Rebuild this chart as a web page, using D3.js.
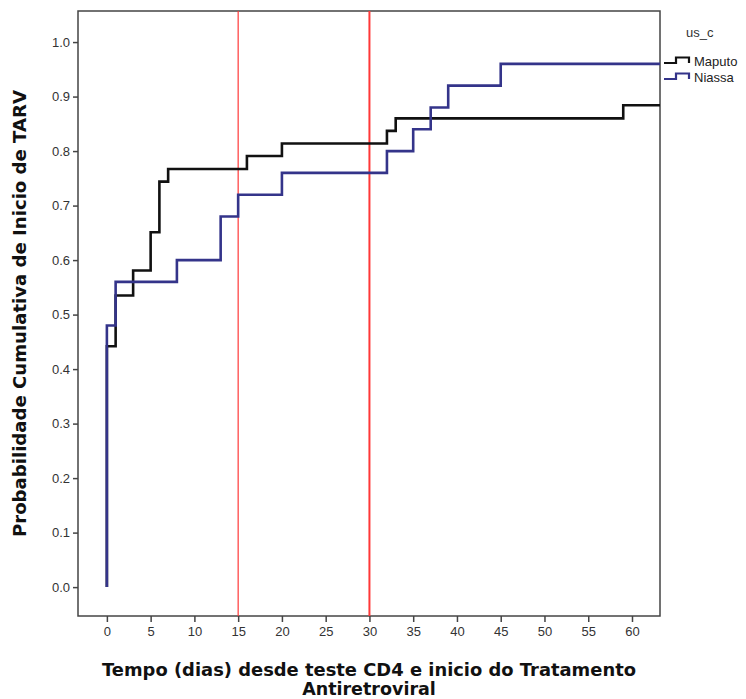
<!DOCTYPE html>
<html>
<head>
<meta charset="utf-8">
<script src="https://cdn.jsdelivr.net/npm/d3@7"></script>
<style>
  body { margin: 0; background: #fff; }
  svg { display: block; }
</style>
</head>
<body>
<div id="main"><svg width="746" height="699"></svg></div>
<script>
// data
var groups = ["Maputo", "Niassa"];
var groupColors = ["#111111", "#34348a"];
var maputoDays = [0, 0, 1, 3, 5, 6, 7, 16, 20, 32, 33, 59];
var maputoProb = [0, 0.442, 0.535, 0.581, 0.651, 0.744, 0.767, 0.791, 0.814, 0.837, 0.860, 0.884];
var niassaDays = [0, 0, 1, 8, 13, 15, 20, 32, 35, 37, 39, 45];
var niassaProb = [0, 0.48, 0.56, 0.60, 0.68, 0.72, 0.76, 0.80, 0.84, 0.88, 0.92, 0.96];
var xTicks = [0, 5, 10, 15, 20, 25, 30, 35, 40, 45, 50, 55, 60];
var yTicks = [0, 0.1, 0.2, 0.3, 0.4, 0.5, 0.6, 0.7, 0.8, 0.9, 1.0];
var refDays = [15, 30];

var svg = d3.select("#main svg");

var plot = {l: 78, r: 660, t: 11, b: 616};
var xMin = -3.3, xMax = 63.2;

var x = d3.scaleLinear().domain([xMin, xMax]).range([plot.l, plot.r]);
var y = d3.scaleLinear().domain([-0.053, 1.057]).range([plot.b, plot.t]);

var axisColor = "#444";
var titleFont = "'DejaVu Sans', Verdana, sans-serif";
var tickFont = "'Liberation Sans', Arial, sans-serif";

// frame
svg.append("rect")
    .attr("x", plot.l).attr("y", plot.t)
    .attr("width", plot.r - plot.l).attr("height", plot.b - plot.t)
    .attr("fill", "none")
    .attr("stroke", axisColor)
    .attr("stroke-width", 1.5);

// axes
var yAxis = svg.append("g")
    .attr("transform", "translate(" + [plot.l, 0] + ")")
    .call(d3.axisLeft(y).tickValues(yTicks).tickFormat(d3.format(".1f")).tickSize(5).tickPadding(3));
var xAxis = svg.append("g")
    .attr("transform", "translate(" + [0, plot.b] + ")")
    .call(d3.axisBottom(x).tickValues(xTicks).tickFormat(d3.format("d")).tickSize(6).tickPadding(5));

[xAxis, yAxis].forEach(function(a) {
  a.select(".domain").remove();
  a.selectAll("line").attr("stroke", axisColor).attr("stroke-width", 1.5);
  a.selectAll("text")
    .attr("fill", "#333")
    .style("font-family", tickFont)
    .style("font-size", "13px");
});

// reference lines
svg.selectAll(".ref").data(refDays)
  .enter().append("line")
    .attr("class", "ref")
    .attr("x1", function(d) { return x(d); })
    .attr("x2", function(d) { return x(d); })
    .attr("y1", plot.t).attr("y2", plot.b)
    .attr("stroke", "#ff3838")
    .attr("stroke-width", function(d, i) { return i == 0 ? 1.2 : 2; });

// step curves
var line = d3.line()
    .x(function(d) { return x(d[0]); })
    .y(function(d) { return y(d[1]); })
    .curve(d3.curveStepAfter);

function series(days, prob) {
  var pts = days.map(function(d, i) { return [d, prob[i]]; });
  pts.push([xMax, prob[prob.length - 1]]);
  return pts;
}

var seriesData = [series(maputoDays, maputoProb), series(niassaDays, niassaProb)];

svg.selectAll(".curve").data(seriesData)
  .enter().append("path")
    .attr("class", "curve")
    .attr("d", line)
    .attr("fill", "none")
    .attr("stroke", function(d, i) { return groupColors[i]; })
    .attr("stroke-width", 2.6)
    .attr("stroke-linejoin", "miter");

// axis titles
svg.append("text")
    .attr("transform", "translate(" + [26, (plot.t + plot.b) / 2] + ") rotate(-90)")
    .attr("text-anchor", "middle")
    .attr("textLength", 447)
    .attr("lengthAdjust", "spacingAndGlyphs")
    .style("font-family", titleFont)
    .style("font-weight", "bold")
    .style("font-size", "17px")
    .attr("fill", "#111")
    .text("Probabilidade Cumulativa de Inicio de TARV");

var xTitle = svg.append("text")
    .attr("text-anchor", "middle")
    .style("font-family", titleFont)
    .style("font-weight", "bold")
    .style("font-size", "17.5px")
    .attr("fill", "#111");
xTitle.append("tspan").attr("x", (plot.l + plot.r) / 2).attr("y", 676)
    .attr("textLength", 534)
    .attr("lengthAdjust", "spacingAndGlyphs")
    .text("Tempo (dias) desde teste CD4 e inicio do Tratamento");
xTitle.append("tspan").attr("x", (plot.l + plot.r) / 2).attr("y", 695)
    .text("Antiretroviral");

// legend
var legend = svg.append("g").attr("transform", "translate(" + [664, 0] + ")");
legend.append("text")
    .attr("x", 22).attr("y", 37)
    .style("font-family", tickFont)
    .style("font-size", "13px")
    .attr("fill", "#333")
    .text("us_c");

var item = legend.selectAll(".item").data(groups)
  .enter().append("g")
    .attr("class", "item")
    .attr("transform", function(d, i) { return "translate(" + [0, 63 + i * 16] + ")"; });
item.append("path")
    .attr("d", "M0,0 H12 V-5.5 H25 V0")
    .attr("fill", "none")
    .attr("stroke", function(d, i) { return groupColors[i]; })
    .attr("stroke-width", 2.2);
item.append("text")
    .attr("x", 30).attr("y", 3)
    .style("font-family", tickFont)
    .style("font-size", "13px")
    .attr("fill", "#222")
    .text(function(d) { return d; });
</script>
</body>
</html>
